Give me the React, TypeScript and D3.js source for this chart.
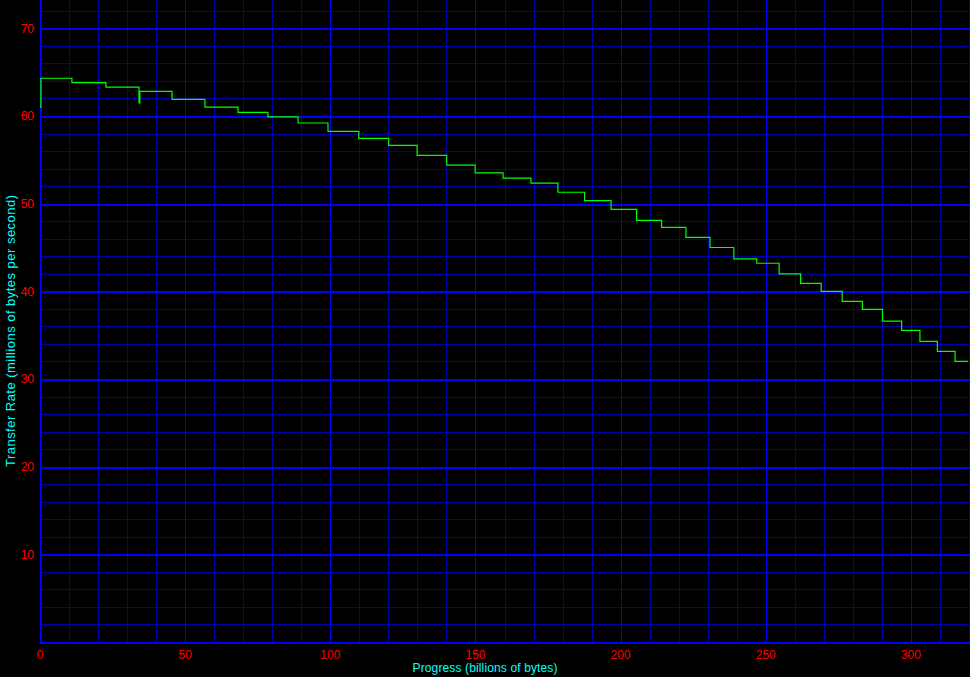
import React from "react";
import * as d3 from "d3";

const W = 970;
const H = 677;

// Progress (billions of bytes) where each step begins
const stepStarts = [0, 0.3, 11.0, 22.7, 34.1, 34.4, 45.5, 56.8, 68.2, 78.5, 88.9, 99.2, 109.8, 120.1, 129.9, 140.1, 149.9, 159.5, 169.1, 178.4, 187.6, 196.7, 205.5, 214.1, 222.5, 230.8, 239.0, 246.9, 254.6, 262.0, 269.1, 276.3, 283.3, 290.2, 296.8, 303.1, 309.1, 315.2, 319.7];
// Transfer rate (millions of bytes per second) for each step
const stepRates = [61.0, 64.3, 63.8, 63.3, 61.5, 62.8, 61.9, 61.0, 60.4, 59.9, 59.2, 58.25, 57.45, 56.65, 55.5, 54.4, 53.5, 52.9, 52.35, 51.3, 50.35, 49.35, 48.1, 47.3, 46.15, 45.0, 43.7, 43.2, 42.0, 40.9, 40.0, 38.85, 37.95, 36.6, 35.55, 34.3, 33.15, 32.0, 32.0];

const xTickValues = [0, 50, 100, 150, 200, 250, 300];
const yTickValues = [10, 20, 30, 40, 50, 60, 70];

const xTitle = "Progress (billions of bytes)";
const yTitle = "Transfer Rate (millions of bytes per second)";

export default function App() {
  const left = 40;
  const right = 969;
  const bottom = 642;
  const x = d3.scaleLinear().domain([0, 320]).range([left, right]);
  const y = d3.scaleLinear().domain([0, 70]).range([bottom, 28.3]);

  const data = stepStarts.map((s, i) => ({ x: s, y: stepRates[i] }));
  const line = d3
    .line<{ x: number; y: number }>()
    .x((d) => x(d.x))
    .y((d) => y(d.y))
    .curve(d3.curveStepAfter);

  const minorX = d3.range(10, 321, 10).filter((v) => v % 50 !== 0);
  const majorX = d3.range(50, 321, 50);
  const minorY = d3.range(2, 74, 2).filter((v) => v % 10 !== 0);
  const majorY = d3.range(10, 74, 10);

  const font = "'Liberation Sans', Arial, sans-serif";
  const r = (v: number) => Math.round(v) + 0.5;

  return (
    <svg
      width={W}
      height={H}
      style={{ position: "absolute", left: 0, top: 0, display: "block", background: "#000" }}
    >
      <rect x={0} y={0} width={W} height={H} fill="#000" />
      <g shapeRendering="crispEdges">
        {minorY.map((v) => (
          <line key={"my" + v} x1={left} x2={W} y1={r(y(v))} y2={r(y(v))} stroke="#0000a8" strokeWidth={1} />
        ))}
        {minorX.map((v) => (
          <line key={"mx" + v} x1={r(x(v))} x2={r(x(v))} y1={0} y2={bottom} stroke="#0000a8" strokeWidth={1} />
        ))}
        {majorX.map((v) => (
          <line key={"Mx" + v} x1={r(x(v))} x2={r(x(v))} y1={0} y2={bottom} stroke="#0000ff" strokeWidth={1} />
        ))}
        {majorY.map((v) => (
          <line key={"My" + v} x1={left} x2={W} y1={Math.round(y(v)) + 1} y2={Math.round(y(v)) + 1} stroke="#0000ff" strokeWidth={2} />
        ))}
        <line x1={left + 1} x2={left + 1} y1={0} y2={bottom + 1} stroke="#0000ff" strokeWidth={2} />
        <line x1={left} x2={W} y1={bottom + 1} y2={bottom + 1} stroke="#0000ff" strokeWidth={2} />
      </g>
      <path d={line(data) || ""} fill="none" stroke="#00ff00" strokeWidth={1.2} />
      <g fontFamily={font} fontSize={12} fill="#ff0000">
        {yTickValues.map((v) => (
          <text key={"yt" + v} x={34} y={y(v) + 4.5} textAnchor="end">
            {v}
          </text>
        ))}
        {xTickValues.map((v) => (
          <text key={"xt" + v} x={x(v)} y={659} textAnchor="middle">
            {v}
          </text>
        ))}
      </g>
      <g fontFamily={font} fill="#00ffff">
        <text x={W / 2} y={672} textAnchor="middle" fontSize={12} textLength={145} lengthAdjust="spacing">
          {xTitle}
        </text>
        <text
          transform={`translate(15, 331) rotate(-90)`}
          textAnchor="middle"
          fontSize={13}
          textLength={272}
          lengthAdjust="spacing"
        >
          {yTitle}
        </text>
      </g>
    </svg>
  );
}
